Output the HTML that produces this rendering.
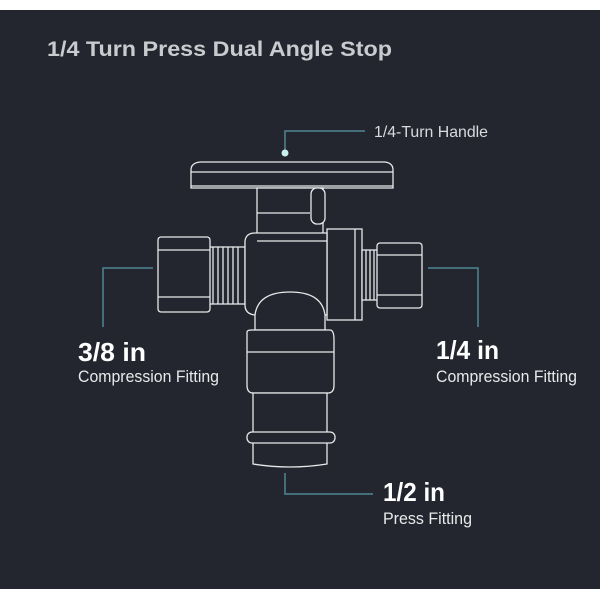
<!DOCTYPE html>
<html><head><style>
html,body{margin:0;padding:0;background:#fff;}
svg{display:block;}
text{font-family:"Liberation Sans",sans-serif;}
</style></head><body>
<svg width="600" height="600" viewBox="0 0 600 600" xmlns="http://www.w3.org/2000/svg">
<rect x="0" y="0" width="600" height="600" fill="#fff"/>
<rect x="0" y="10" width="600" height="579" fill="#23262e"/>
<text x="47" y="56" font-size="21" font-weight="bold" fill="#c9cbcf" textLength="345" lengthAdjust="spacingAndGlyphs">1/4 Turn Press Dual Angle Stop</text>

<!-- callouts -->
<g stroke="#4e8593" stroke-width="1.5" fill="none">
<polyline points="285,153 285,131 365,131"/>
<polyline points="153,268 103,268 103,327"/>
<polyline points="428,268 478,268 478,327"/>
<polyline points="285,473 285,494 373,494"/>
</g>
<circle cx="285" cy="153" r="3.5" fill="#c8f0f0"/>
<text x="374" y="137" font-size="16" fill="#d8dadd" textLength="114" lengthAdjust="spacingAndGlyphs">1/4-Turn Handle</text>
<text x="78" y="361" font-size="26" font-weight="bold" fill="#fff" textLength="68" lengthAdjust="spacingAndGlyphs">3/8 in</text>
<text x="78" y="382" font-size="17" fill="#e8e9eb" textLength="141" lengthAdjust="spacingAndGlyphs">Compression Fitting</text>
<text x="436" y="359" font-size="26" font-weight="bold" fill="#fff" textLength="63" lengthAdjust="spacingAndGlyphs">1/4 in</text>
<text x="436" y="382" font-size="17" fill="#e8e9eb" textLength="141" lengthAdjust="spacingAndGlyphs">Compression Fitting</text>
<text x="383" y="501" font-size="26" font-weight="bold" fill="#fff" textLength="62" lengthAdjust="spacingAndGlyphs">1/2 in</text>
<text x="383" y="524" font-size="17" fill="#e8e9eb" textLength="89" lengthAdjust="spacingAndGlyphs">Press Fitting</text>

<!-- valve -->
<g stroke="#e8e9ea" stroke-width="1.3" fill="#23262e">
<path d="M191,188 L191,170 Q191,163 200,162 L385,162 Q393,163 393,170 L393,188 Z"/>
<line x1="191" y1="172" x2="393" y2="172"/>
<line x1="191" y1="186" x2="393" y2="186"/>
<rect x="257" y="188" width="66" height="52"/>
<line x1="257" y1="213" x2="310" y2="213"/>
<rect x="311" y="188" width="14" height="36" rx="6"/>
<rect x="327" y="229" width="35" height="91"/>
<line x1="355" y1="229" x2="355" y2="320"/>
<rect x="362" y="250" width="16" height="50"/>
<line x1="366" y1="250" x2="366" y2="300"/><line x1="370" y1="250" x2="370" y2="300"/><line x1="374" y1="250" x2="374" y2="300"/>
<rect x="377" y="243" width="45" height="65" rx="3"/>
<line x1="377" y1="255" x2="422" y2="255"/><line x1="377" y1="295" x2="422" y2="295"/>
<rect x="208" y="247" width="37" height="57"/>
<line x1="213" y1="247" x2="213" y2="304"/><line x1="218" y1="247" x2="218" y2="304"/><line x1="223" y1="247" x2="223" y2="304"/><line x1="228" y1="247" x2="228" y2="304"/><line x1="233" y1="247" x2="233" y2="304"/><line x1="238" y1="247" x2="238" y2="304"/>
<rect x="158" y="237" width="52" height="75" rx="3"/>
<line x1="158" y1="250" x2="210" y2="250"/><line x1="158" y1="297" x2="210" y2="297"/>
<path d="M245,241 Q246,233 255,233 L327,233 L327,315 L255,315 Q245,314 245,305 Z"/>
<line x1="257" y1="241" x2="327" y2="241"/>
<path d="M255,330 L255,315 Q258,292 290,292 Q322,292 325,315 L325,330 Z"/>
<path d="M247,332 Q247,330 252,330 L330,330 Q334,330 334,340 L334,385 Q334,393 328,393 L253,393 Q247,393 247,385 Z"/>
<line x1="247" y1="352" x2="334" y2="352"/>
<path d="M253,393 L253,464 Q290,470 327,464 L327,393 Z"/>
<rect x="247" y="432" width="88" height="11" rx="5"/>
</g>
</svg>
</body></html>
